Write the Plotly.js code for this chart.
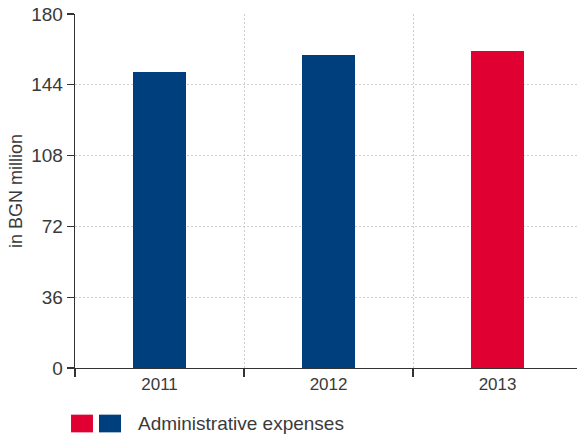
<!DOCTYPE html>
<html>
<head>
<meta charset="utf-8">
<script src="https://cdn.plot.ly/plotly-3.0.1.min.js"></script>
<style>html,body{margin:0;padding:0;background:#fff;}#chart{width:577px;height:440px;}</style>
</head>
<body>
<div id="chart"></div>
<script>
var years = ['2011', '2012', '2013'];
var values = [150.5, 159.0, 161.2];
var barColors = ['#003f7d', '#003f7d', '#e10032'];
var seriesName = 'Administrative expenses';
var yTicks = [0, 36, 72, 108, 144, 180];

var fam = 'Liberation Sans, Arial, sans-serif';
var txt = '#3a3a3a';

var data = [{
  type: 'bar',
  x: years,
  y: values,
  marker: {color: barColors, line: {width: 0}},
  width: 0.31,
  showlegend: false,
  hoverinfo: 'x+y'
}];

var layout = {
  width: 577, height: 440,
  margin: {l: 75, r: 0, t: 14, b: 72, pad: 0},
  paper_bgcolor: '#fff', plot_bgcolor: '#fff',
  font: {family: fam, color: txt, size: 17},
  showlegend: false,
  bargap: 0,
  xaxis: {
    type: 'category',
    range: [-0.5, 2.47],
    tickson: 'boundaries',
    ticks: 'outside', ticklen: 8, tickwidth: 1.3, tickcolor: '#333',
    showgrid: true, gridcolor: '#cfcfcf', griddash: '2px,2px', gridwidth: 1,
    showline: true, linecolor: '#333', linewidth: 1.3,
    tickfont: {size: 17, color: txt},
    fixedrange: true
  },
  yaxis: {
    range: [0, 180],
    tickvals: yTicks,
    ticks: 'outside', ticklen: 7, tickwidth: 1.3, tickcolor: '#333',
    showgrid: true, gridcolor: '#cfcfcf', griddash: '2px,2px', gridwidth: 1,
    showline: true, linecolor: '#333', linewidth: 1.3,
    zeroline: false,
    tickfont: {size: 19, color: txt},
    title: {text: 'in BGN million', font: {size: 18, color: txt}, standoff: 4},
    fixedrange: true
  },
  shapes: [
    {type: 'rect', xref: 'paper', yref: 'paper', x0: -0.0079, x1: 0.0358, y0: -0.1818, y1: -0.1318,
     fillcolor: barColors[2], line: {width: 0}},
    {type: 'rect', xref: 'paper', yref: 'paper', x0: 0.0478, x1: 0.0916, y0: -0.1818, y1: -0.1318,
     fillcolor: barColors[0], line: {width: 0}}
  ],
  annotations: [
    {xref: 'paper', yref: 'paper', x: 0.1215, y: -0.1568, xanchor: 'left', yanchor: 'middle',
     text: seriesName, showarrow: false, font: {size: 19, color: txt}}
  ]
};

Plotly.newPlot('chart', data, layout, {displayModeBar: false, staticPlot: true});
</script>
</body>
</html>
